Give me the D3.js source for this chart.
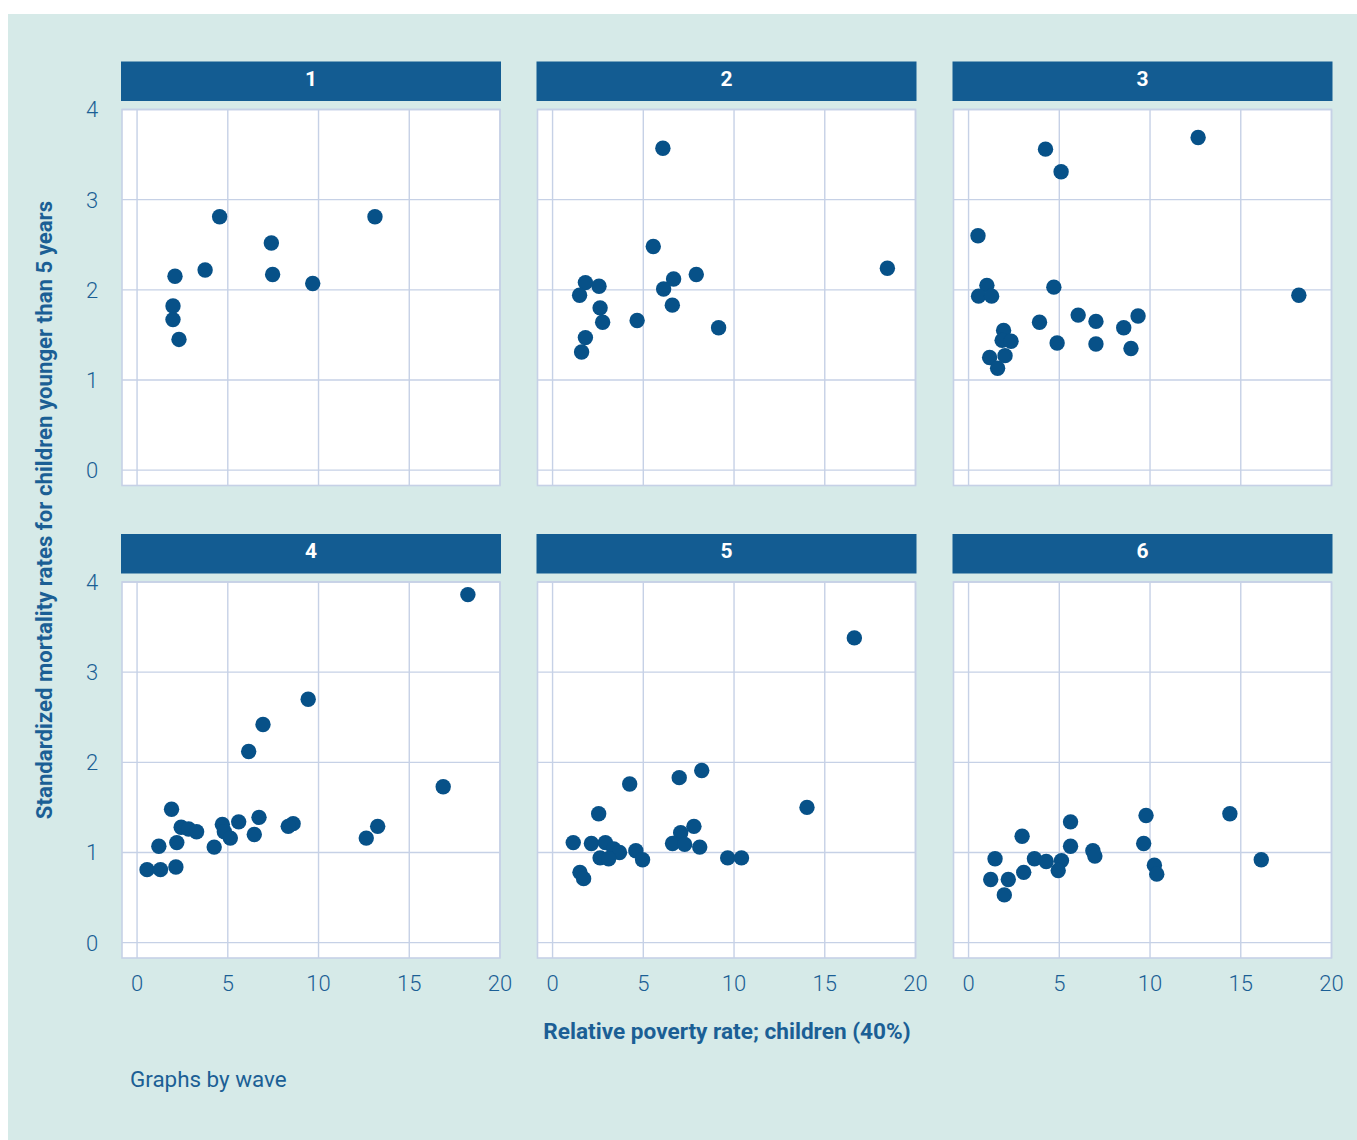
<!DOCTYPE html>
<html>
<head>
<meta charset="utf-8">
<script src="https://cdn.jsdelivr.net/npm/d3@7"></script>
<style>
  html, body { margin: 0; padding: 0; background: #ffffff; }
  svg { display: block; }
  text { font-family: Roboto, "Noto Sans", "DejaVu Sans", sans-serif; }
</style>
</head>
<body>
<svg id="chart" width="1357" height="1140"></svg>
<script>
// Child poverty rate (x) vs. standardized under-5 mortality (y), one panel per wave
const waves = ["1", "2", "3", "4", "5", "6"];

const wave1Poverty   = [4.55, 13.11, 7.40, 7.47, 3.75, 2.09, 9.68, 1.98, 1.98, 2.31];
const wave1Mortality = [2.81, 2.81, 2.52, 2.17, 2.22, 2.15, 2.07, 1.82, 1.67, 1.45];

const wave2Poverty   = [6.08, 5.55, 7.92, 6.67, 6.12, 6.60, 9.15, 18.45, 1.81, 2.56, 1.49, 2.62, 2.76, 4.66, 1.81, 1.60];
const wave2Mortality = [3.57, 2.48, 2.17, 2.12, 2.01, 1.83, 1.58, 2.24, 2.08, 2.04, 1.94, 1.80, 1.64, 1.66, 1.47, 1.31];

const wave3Poverty   = [12.65, 4.24, 5.10, 0.52, 1.01, 0.55, 1.27, 4.70, 18.20, 3.91, 6.04, 7.02, 8.55, 9.34, 4.88, 7.02, 8.95, 1.93, 1.85, 2.34, 1.16, 2.01, 1.60];
const wave3Mortality = [3.69, 3.56, 3.31, 2.60, 2.05, 1.93, 1.93, 2.03, 1.94, 1.64, 1.72, 1.65, 1.58, 1.71, 1.41, 1.40, 1.35, 1.55, 1.44, 1.43, 1.25, 1.27, 1.13];

const wave4Poverty   = [18.23, 9.43, 6.94, 6.15, 16.87, 1.90, 6.72, 5.60, 4.70, 8.60, 8.33, 13.26, 12.63, 2.43, 2.84, 3.28, 4.81, 5.14, 6.46, 2.19, 1.20, 4.25, 0.55, 1.29, 2.14];
const wave4Mortality = [3.86, 2.70, 2.42, 2.12, 1.73, 1.48, 1.39, 1.34, 1.31, 1.32, 1.29, 1.29, 1.16, 1.28, 1.26, 1.23, 1.23, 1.16, 1.20, 1.11, 1.07, 1.06, 0.81, 0.81, 0.84];

const wave5Poverty   = [16.63, 8.22, 6.98, 4.25, 14.02, 2.54, 7.79, 7.06, 1.14, 2.14, 2.91, 3.37, 3.69, 4.59, 4.96, 2.62, 3.09, 6.61, 7.28, 8.11, 9.65, 10.41, 1.51, 1.71];
const wave5Mortality = [3.38, 1.91, 1.83, 1.76, 1.50, 1.43, 1.29, 1.22, 1.11, 1.10, 1.11, 1.04, 1.00, 1.02, 0.92, 0.94, 0.93, 1.10, 1.09, 1.06, 0.94, 0.94, 0.78, 0.71];

const wave6Poverty   = [14.40, 9.78, 5.62, 2.95, 9.65, 5.62, 6.85, 6.96, 1.46, 3.63, 4.28, 5.12, 4.94, 16.13, 10.24, 10.37, 3.04, 1.22, 2.19, 1.97];
const wave6Mortality = [1.43, 1.41, 1.34, 1.18, 1.10, 1.07, 1.02, 0.96, 0.93, 0.93, 0.90, 0.91, 0.80, 0.92, 0.86, 0.76, 0.78, 0.70, 0.70, 0.53];

const xTicks = [0, 5, 10, 15, 20];
const yTicks = [0, 1, 2, 3, 4];

const xTitle = "Relative poverty rate; children (40%)";
const yTitle = "Standardized mortality rates for children younger than 5 years";
const note = "Graphs by wave";

const povertyByWave = [wave1Poverty, wave2Poverty, wave3Poverty, wave4Poverty, wave5Poverty, wave6Poverty];
const mortalityByWave = [wave1Mortality, wave2Mortality, wave3Mortality, wave4Mortality, wave5Mortality, wave6Mortality];

// Styling
const bg = "#d6eae8";
const navy = "#135c92";
const dotColor = "#075188";
const textColor = "#1b5f95";
const gridColor = "#c6d1e6";

// Panel geometry
const colX = [122, 537.5, 953.5];
const rowTop = [109.5, 582];
const plotW = 378, plotH = 376;
const headerH = 39.5, headerGap = 8.5;

const svg = d3.select("#chart");

svg.append("rect")
  .attr("x", 8).attr("y", 14)
  .attr("width", 1349).attr("height", 1126)
  .attr("fill", bg);

const xDomain = [-0.83, 20];
const yDomain = [-0.17, 4];

waves.forEach((w, i) => {
  const col = i % 3, row = Math.floor(i / 3);
  const x0 = colX[col], y0 = rowTop[row];

  const x = d3.scaleLinear().domain(xDomain).range([x0, x0 + plotW]);
  const y = d3.scaleLinear().domain(yDomain).range([y0 + plotH, y0]);

  const g = svg.append("g");

  // header strip
  g.append("rect")
    .attr("x", x0 - 1).attr("y", y0 - headerGap - headerH)
    .attr("width", plotW + 2).attr("height", headerH)
    .attr("fill", navy);
  g.append("text")
    .attr("x", x0 + plotW / 2).attr("y", y0 - headerGap - headerH / 2 - 3)
    .attr("dy", "0.36em")
    .attr("text-anchor", "middle")
    .attr("fill", "#ffffff")
    .attr("font-size", 21).attr("font-weight", 700)
    .text(w);

  // plot area
  g.append("rect")
    .attr("x", x0).attr("y", y0)
    .attr("width", plotW).attr("height", plotH)
    .attr("fill", "#ffffff")
    .attr("stroke", gridColor).attr("stroke-width", 1.6);

  // grid lines
  g.append("g").selectAll("line").data(xTicks).join("line")
    .attr("x1", d => x(d)).attr("x2", d => x(d))
    .attr("y1", y0).attr("y2", y0 + plotH)
    .attr("stroke", gridColor).attr("stroke-width", 1.4);
  g.append("g").selectAll("line").data(yTicks).join("line")
    .attr("x1", x0).attr("x2", x0 + plotW)
    .attr("y1", d => y(d)).attr("y2", d => y(d))
    .attr("stroke", gridColor).attr("stroke-width", 1.4);

  // y tick labels on left column
  if (col === 0) {
    g.append("g").selectAll("text").data(yTicks).join("text")
      .attr("x", 92).attr("y", d => y(d))
      .attr("dy", "0.36em")
      .attr("text-anchor", "middle")
      .attr("fill", textColor)
      .attr("font-size", 22).attr("font-weight", 300)
      .text(d => d);
  }
  // x tick labels on bottom row
  if (row === 1) {
    g.append("g").selectAll("text").data(xTicks).join("text")
      .attr("x", d => x(d)).attr("y", 983)
      .attr("dy", "0.36em")
      .attr("text-anchor", "middle")
      .attr("fill", textColor)
      .attr("font-size", 22).attr("font-weight", 300)
      .text(d => d);
  }

  // points
  const pts = povertyByWave[i].map((p, k) => ({ p, m: mortalityByWave[i][k] }));
  g.append("g").selectAll("circle").data(pts).join("circle")
    .attr("cx", d => x(d.p)).attr("cy", d => y(d.m))
    .attr("r", 7.7)
    .attr("fill", dotColor);
});

// axis titles
svg.append("text")
  .attr("x", 727).attr("y", 1031)
  .attr("dy", "0.36em")
  .attr("text-anchor", "middle")
  .attr("fill", textColor)
  .attr("font-size", 22.6).attr("font-weight", 700)
  .text(xTitle);

svg.append("text")
  .attr("transform", "translate(44,510) rotate(-90)")
  .attr("dy", "0.36em")
  .attr("text-anchor", "middle")
  .attr("fill", textColor)
  .attr("font-size", 22.2).attr("font-weight", 700)
  .text(yTitle);

svg.append("text")
  .attr("x", 130).attr("y", 1079)
  .attr("dy", "0.36em")
  .attr("fill", textColor)
  .attr("font-size", 22.4).attr("font-weight", 400)
  .text(note);
</script>
</body>
</html>
